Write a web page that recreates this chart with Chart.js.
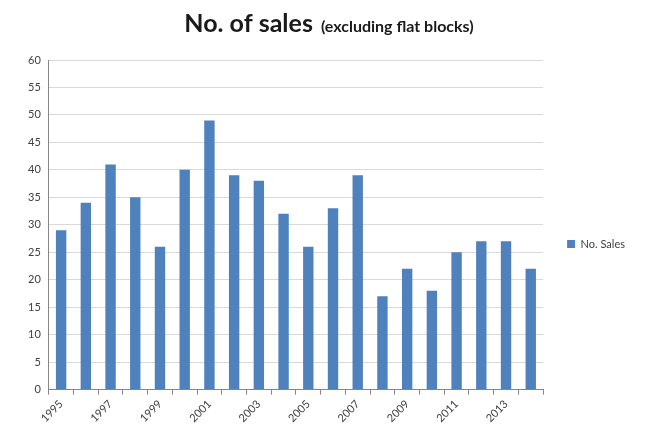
<!DOCTYPE html>
<html>
<head>
<meta charset="utf-8">
<script src="https://cdn.jsdelivr.net/npm/chart.js@4/dist/chart.umd.min.js"></script>
<style>
html,body{margin:0;padding:0;background:#fff;}
#wrap{width:655px;height:430px;}
</style>
</head>
<body>
<div id="wrap"><canvas id="c"></canvas></div>
<script>
const years = ['1995','1996','1997','1998','1999','2000','2001','2002','2003','2004','2005','2006','2007','2008','2009','2010','2011','2012','2013','2014'];
const sales = [29,34,41,35,26,40,49,39,38,32,26,33,39,17,22,18,25,27,27,22];
const seriesName = 'No. Sales';
const titleMain = 'No. of sales';
const titleSub = '(excluding flat blocks)';

const titlePlugin = {
  id: 'mixedTitle',
  afterDraw(chart) {
    const ctx = chart.ctx;
    ctx.save();
    ctx.fillStyle = '#1a1a1a';
    ctx.textBaseline = 'alphabetic';
    const f1 = 'bold 25px Lato, "Open Sans", sans-serif';
    const f2 = 'bold 16px Lato, "Open Sans", sans-serif';
    ctx.font = f1; const w1 = ctx.measureText(titleMain).width;
    const gap = 8;
    ctx.font = f2; const w2 = ctx.measureText(titleSub).width;
    const cx = 329;
    let x = cx - (w1 + gap + w2) / 2;
    const y = 32;
    ctx.font = f1; ctx.textAlign = 'left';
    ctx.fillText(titleMain, x, y);
    ctx.font = f2;
    ctx.fillText(titleSub, x + w1 + gap, y);
    ctx.restore();
  }
};

new Chart(document.getElementById('c'), {
  type: 'bar',
  data: {
    labels: years,
    datasets: [{
      label: seriesName,
      data: sales,
      backgroundColor: '#4f81bd',
      borderWidth: 0,
      barPercentage: 0.42,
      categoryPercentage: 1.0
    }]
  },
  options: {
    responsive: true,
    maintainAspectRatio: false,
    animation: false,
    layout: { padding: { top: 60, left: 20, right: 20, bottom: 2 } },
    plugins: {
      title: { display: false },
      tooltip: { enabled: false },
      legend: {
        position: 'right',
        labels: {
          boxWidth: 8, boxHeight: 8,
          color: '#404040',
          font: { family: 'Lato, "Open Sans", sans-serif', size: 11 },
          padding: 24
        }
      }
    },
    scales: {
      x: {
        grid: { drawOnChartArea: false, drawTicks: true, tickLength: 5, offset: true, color: '#868686' },
        border: { color: '#868686' },
        ticks: {
          autoSkip: false,
          maxRotation: 45, minRotation: 45,
          color: '#404040',
          font: { family: 'Lato, "Open Sans", sans-serif', size: 11 },
          callback: function(v, i) { return i % 2 === 0 ? this.getLabelForValue(v) : ''; }
        }
      },
      y: {
        min: 0, max: 60,
        ticks: { stepSize: 5, color: '#404040', font: { family: 'Lato, "Open Sans", sans-serif', size: 11 }, padding: 8 },
        grid: { color: '#d9d9d9', drawTicks: false },
        border: { color: '#868686' }
      }
    }
  },
  plugins: [titlePlugin]
});
</script>
</body>
</html>
